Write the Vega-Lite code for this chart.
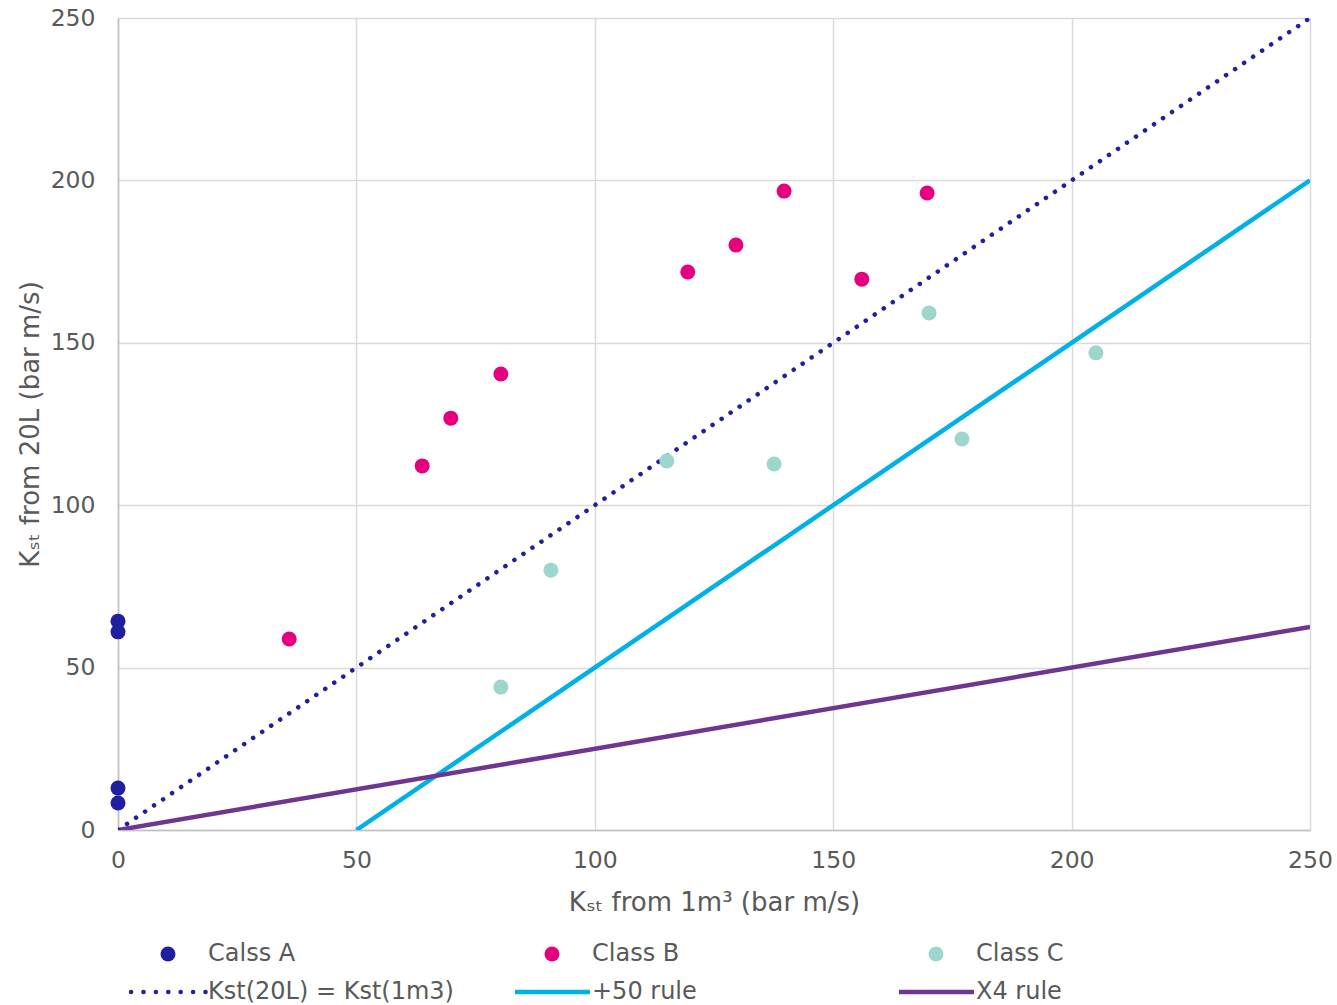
{
  "$schema": "https://vega.github.io/schema/vega-lite/v6.json",
  "width": 1192,
  "height": 812,
  "autosize": {"type": "none"},
  "padding": {"left": 118, "top": 18, "right": 27, "bottom": 175},
  "background": "white",
  "config": {
    "font": "DejaVu Sans",
    "view": {"stroke": null},
    "axis": {
      "grid": true,
      "gridColor": "#d9d9d9",
      "gridWidth": 1.5,
      "domainColor": "#bfbfbf",
      "domainWidth": 1.5,
      "ticks": false,
      "labelFlush": false,
      "labelFont": "DejaVu Sans",
      "labelFontSize": 23.5,
      "labelColor": "#595959",
      "titleFont": "DejaVu Sans",
      "titleFontSize": 26,
      "titleFontWeight": "normal",
      "titleColor": "#595959"
    }
  },
  "datasets": {
    "pts": [
      {"x": 0, "y": 64.3, "series": "Calss A"},
      {"x": 0, "y": 61.0, "series": "Calss A"},
      {"x": 0, "y": 12.9, "series": "Calss A"},
      {"x": 0, "y": 8.3, "series": "Calss A"},
      {"x": 35.9, "y": 58.8, "series": "Class B"},
      {"x": 63.8, "y": 112.1, "series": "Class B"},
      {"x": 69.8, "y": 126.8, "series": "Class B"},
      {"x": 80.3, "y": 140.4, "series": "Class B"},
      {"x": 119.5, "y": 171.8, "series": "Class B"},
      {"x": 129.6, "y": 180.1, "series": "Class B"},
      {"x": 139.7, "y": 196.7, "series": "Class B"},
      {"x": 156.0, "y": 169.6, "series": "Class B"},
      {"x": 169.7, "y": 196.1, "series": "Class B"},
      {"x": 80.3, "y": 44.0, "series": "Class C"},
      {"x": 90.8, "y": 80.0, "series": "Class C"},
      {"x": 115.1, "y": 113.6, "series": "Class C"},
      {"x": 137.6, "y": 112.7, "series": "Class C"},
      {"x": 170.1, "y": 159.2, "series": "Class C"},
      {"x": 177.0, "y": 120.4, "series": "Class C"},
      {"x": 205.1, "y": 146.9, "series": "Class C"}
    ],
    "solid": [
      {"x": 50, "y": 0, "series": "+50 rule"},
      {"x": 250, "y": 200, "series": "+50 rule"},
      {"x": 0, "y": 0, "series": "X4 rule"},
      {"x": 250, "y": 62.5, "series": "X4 rule"}
    ],
    "dotted": [
      {"x": 0, "y": 0, "series": "Kst(20L) = Kst(1m3)"},
      {"x": 250, "y": 250, "series": "Kst(20L) = Kst(1m3)"}
    ]
  },
  "encoding": {
    "x": {
      "field": "x", "type": "quantitative",
      "scale": {"domain": [0, 250], "nice": false, "zero": true},
      "axis": {"values": [0, 50, 100, 150, 200, 250], "title": "Kₛₜ from 1m³ (bar m/s)", "labelPadding": 18, "titlePadding": 18}
    },
    "y": {
      "field": "y", "type": "quantitative",
      "scale": {"domain": [0, 250], "nice": false, "zero": true},
      "axis": {"values": [0, 50, 100, 150, 200, 250], "title": "Kₛₜ from 20L (bar m/s)", "labelPadding": 23, "titlePadding": 7}
    }
  },
  "layer": [
    {
      "data": {"name": "solid"},
      "mark": {"type": "line", "strokeWidth": 4.5, "clip": true},
      "encoding": {
        "detail": {"field": "series"},
        "color": {
          "field": "series", "type": "nominal",
          "scale": {
            "domain": ["Calss A", "Class B", "Class C", "Kst(20L) = Kst(1m3)", "+50 rule", "X4 rule"],
            "range": ["#1f1fa0", "#e6007e", "#9dd6cc", "#1f1fa0", "#00b0e8", "#6f3591"]
          },
          "legend": {
            "title": null,
            "orient": "none",
            "direction": "horizontal",
            "legendX": 38,
            "legendY": 924,
            "columns": 3,
            "gridAlign": "all",
            "columnPadding": 52,
            "rowPadding": 14,
            "padding": 0,
            "symbolSize": 225,
            "labelFont": "DejaVu Sans",
            "labelFontSize": 24,
            "labelColor": "#595959",
            "labelOffset": 28,
            "labelLimit": 400,
            "encode": {
              "symbols": {
                "update": {
                  "shape": {"signal": "indexof(['Kst(20L) = Kst(1m3)','+50 rule','X4 rule'], datum.value) >= 0 ? 'M-4.93,0H5.07' : 'circle'"},
                  "fill": {"signal": "indexof(['Kst(20L) = Kst(1m3)','+50 rule','X4 rule'], datum.value) >= 0 ? 'transparent' : scale('color', datum.value)"},
                  "stroke": {"signal": "indexof(['Kst(20L) = Kst(1m3)','+50 rule','X4 rule'], datum.value) >= 0 ? scale('color', datum.value) : 'transparent'"},
                  "strokeWidth": {"signal": "indexof(['Kst(20L) = Kst(1m3)','+50 rule','X4 rule'], datum.value) >= 0 ? 4.5 : 0"},
                  "strokeDash": {"signal": "datum.value === 'Kst(20L) = Kst(1m3)' ? [0.1, 12.3] : [1, 0]"},
                  "strokeCap": {"signal": "datum.value === 'Kst(20L) = Kst(1m3)' ? 'round' : 'butt'"},
                  "opacity": {"value": 1}
                }
              }
            }
          }
        }
      }
    },
    {
      "data": {"name": "dotted"},
      "mark": {"type": "line", "strokeWidth": 4.5, "strokeDash": [0.1, 10.8], "strokeCap": "round", "clip": true},
      "encoding": {
        "color": {"field": "series", "type": "nominal"}
      }
    },
    {
      "data": {"name": "pts"},
      "mark": {"type": "point", "filled": true, "opacity": 1, "size": 225, "shape": "circle"},
      "encoding": {
        "color": {"field": "series", "type": "nominal"}
      }
    }
  ]
}
